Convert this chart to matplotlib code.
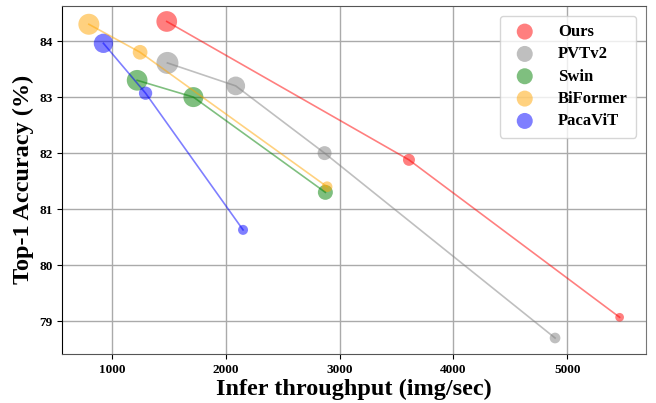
import matplotlib
matplotlib.use("Agg")
import matplotlib.pyplot as plt

plt.rcParams['font.family'] = ['Liberation Serif', 'DejaVu Serif']
plt.rcParams['font.weight'] = 'bold'

models = ["Ours", "PVTv2", "Swin", "BiFormer", "PacaViT"]
colors = ["red", "gray", "green", "orange", "blue"]

throughput = {
    "Ours": [1482, 3609, 5459],
    "PVTv2": [1488, 2088, 2868, 4892],
    "Swin": [1222, 1716, 2875],
    "BiFormer": [798, 1248, 2890],
    "PacaViT": [926, 1296, 2152],
}
accuracy = {
    "Ours": [84.35, 81.88, 79.07],
    "PVTv2": [83.61, 83.20, 82.00, 78.70],
    "Swin": [83.30, 83.00, 81.30],
    "BiFormer": [84.30, 83.80, 81.40],
    "PacaViT": [83.96, 83.07, 80.63],
}
# relative model scale (marker diameter, px)
model_scale = {
    "Ours": [20.7, 12.0, 8.7],
    "PVTv2": [22.0, 18.7, 14.0, 10.7],
    "Swin": [20.7, 20.0, 15.0],
    "BiFormer": [21.0, 14.7, 10.7],
    "PacaViT": [19.3, 13.3, 10.0],
}

fig = plt.figure(figsize=(6.56, 4.03), dpi=100)
ax = fig.add_axes([0.095, 0.122, 0.89, 0.864])

for m, c in zip(models, colors):
    xs = throughput[m]
    ys = accuracy[m]
    ss = [(d * 0.72) ** 2 for d in model_scale[m]]
    ax.plot(xs, ys, color=c, alpha=0.5, lw=1.2, zorder=3)
    ax.scatter(xs, ys, s=ss, color=c, alpha=0.5, edgecolors='none', label=m, zorder=2)

ax.grid(True, color='#aaaaaa', lw=1.0, zorder=0)
ax.set_axisbelow(True)
ax.set_xticks([1000, 2000, 3000, 4000, 5000])
ax.set_yticks([79, 80, 81, 82, 83, 84])
ax.tick_params(labelsize=9.5)
for lbl in ax.get_xticklabels() + ax.get_yticklabels():
    lbl.set_fontweight('bold')

ax.set_xlabel("Infer throughput (img/sec)", fontsize=17.5, fontweight='bold', labelpad=2)
ax.set_ylabel("Top-1 Accuracy (%)", fontsize=17.5, fontweight='bold', labelpad=4)

for sp in ax.spines.values():
    sp.set_color('black')
ax.spines['bottom'].set_color('#555555')
ax.spines['top'].set_color('#555555')
ax.spines['right'].set_color('#777777')

leg = ax.legend(loc='upper right', prop={'family': 'Liberation Serif', 'weight': 'bold', 'size': 12},
                labelspacing=0.38, borderpad=0.5, handletextpad=1.0, borderaxespad=0.6,
                scatterpoints=1)
for h in leg.legend_handles:
    h.set_sizes([(16 * 0.72) ** 2])

fig.savefig("out.png", dpi=100)
